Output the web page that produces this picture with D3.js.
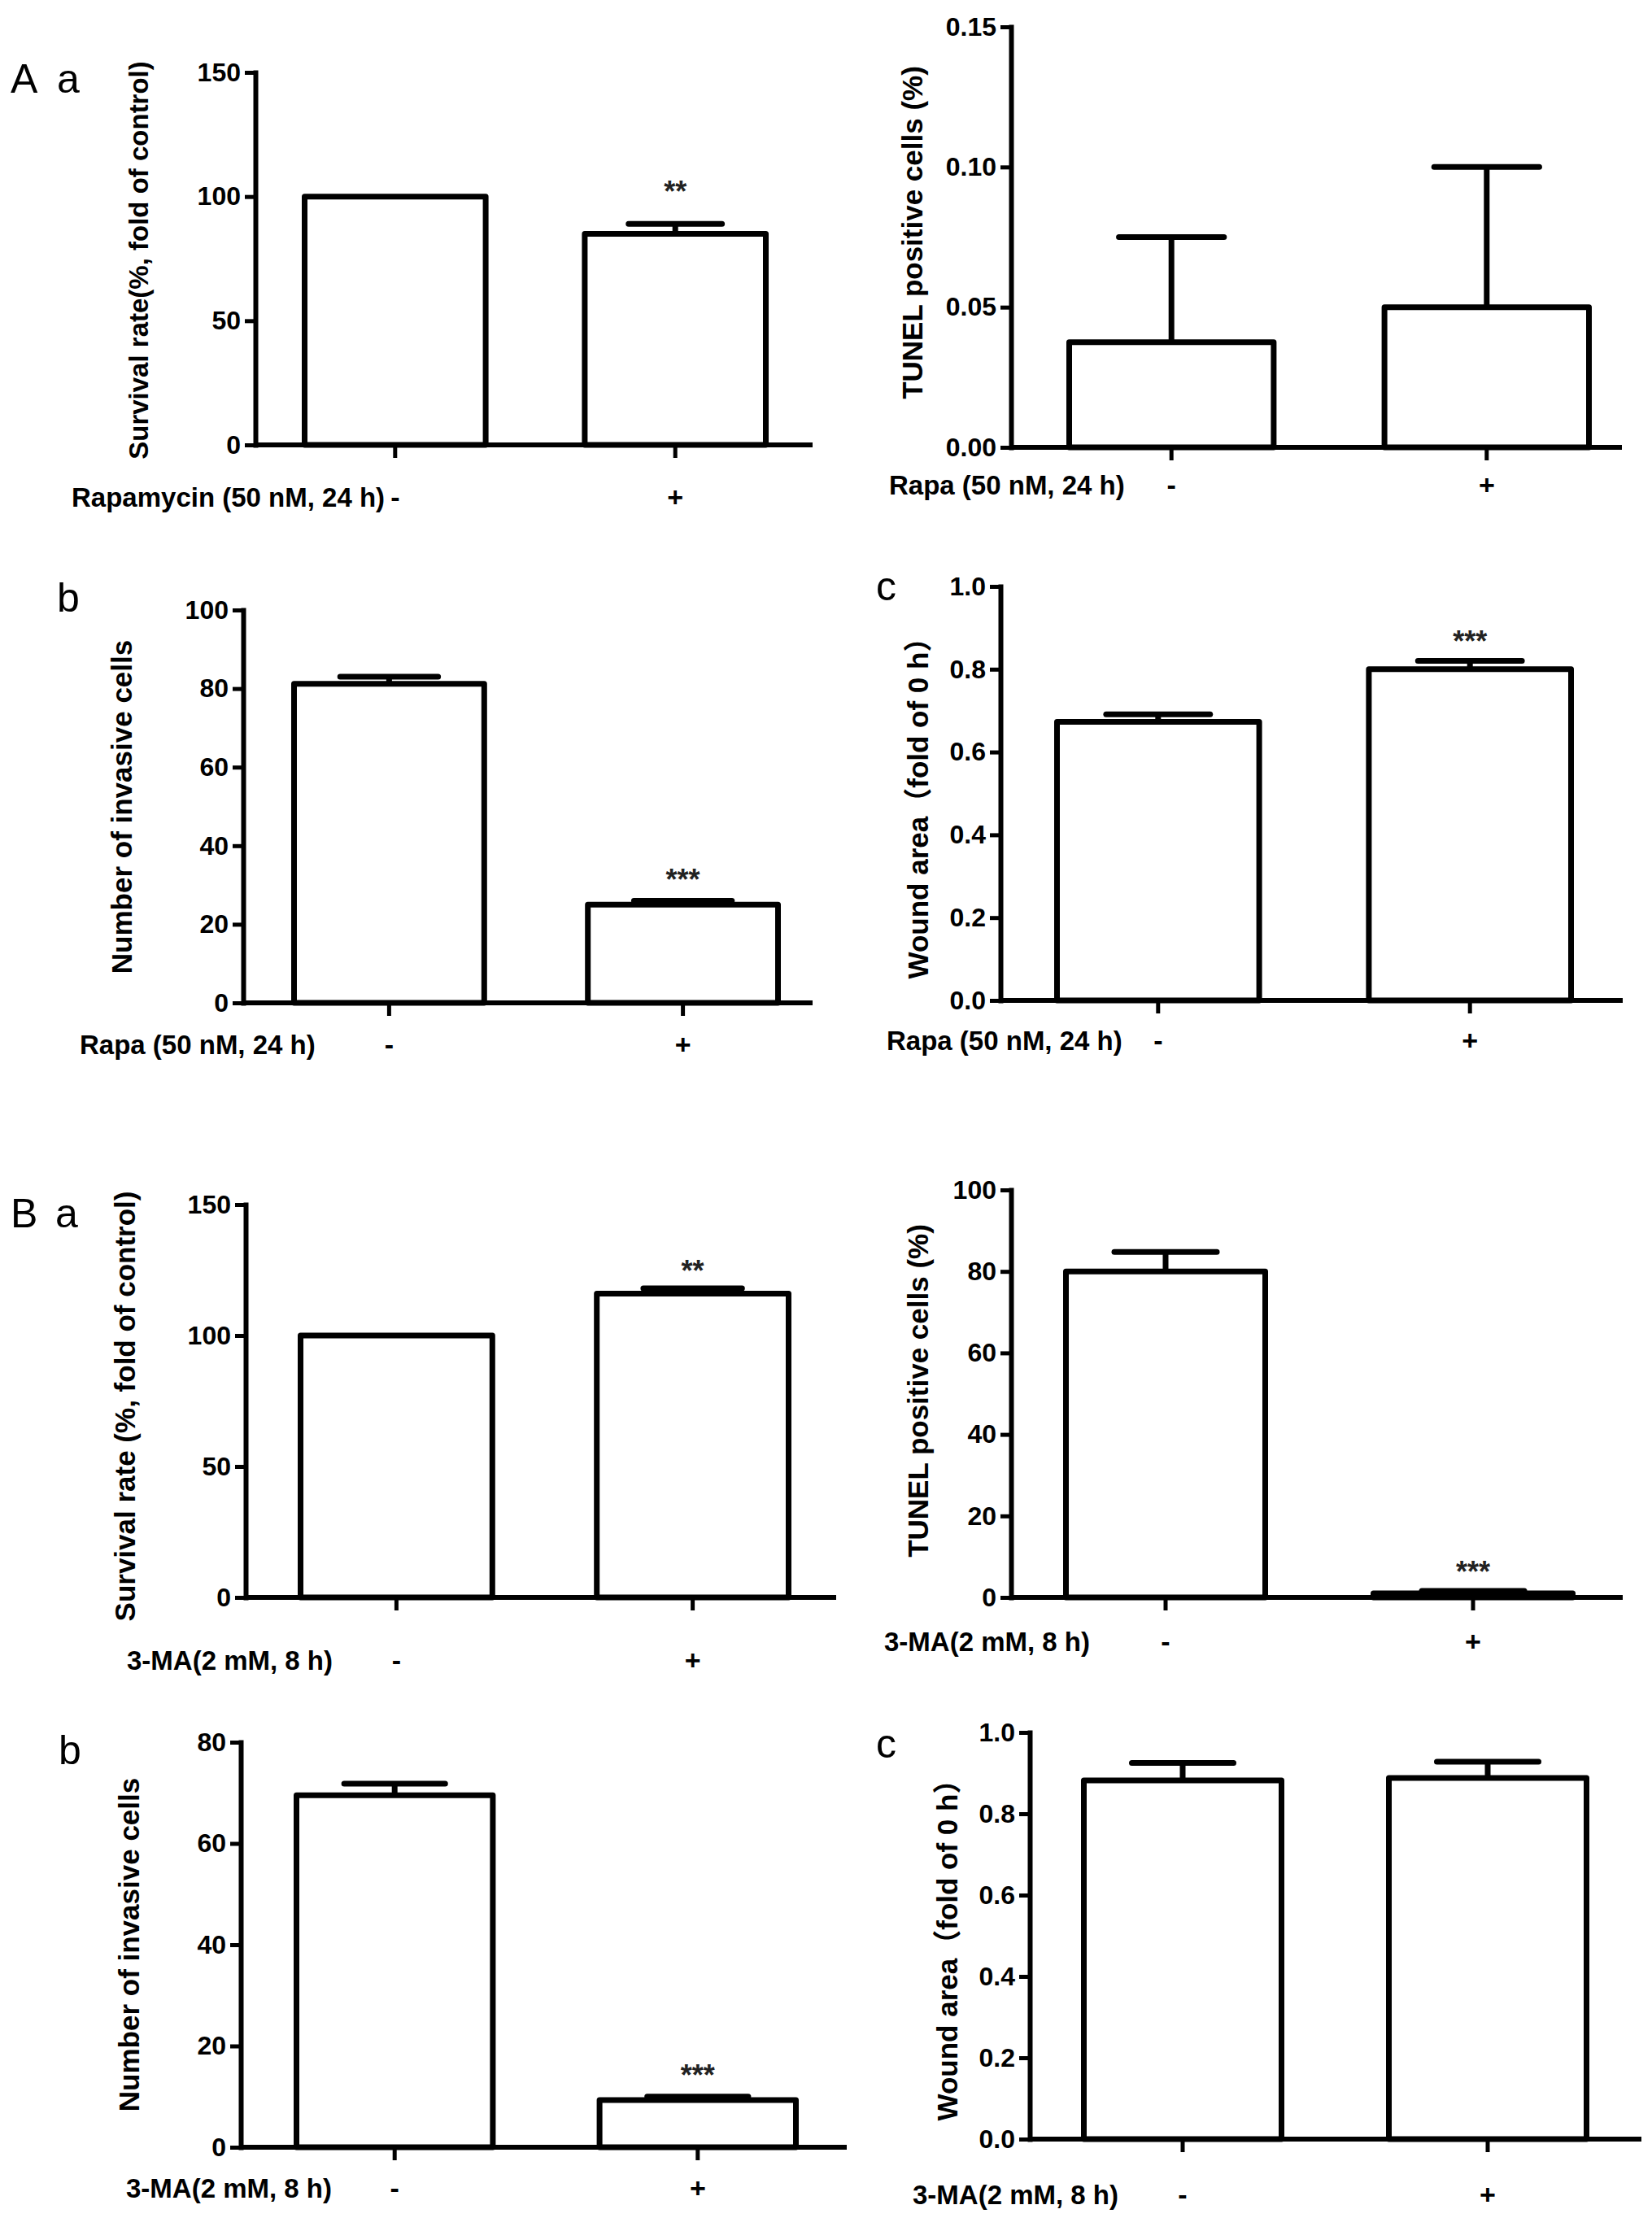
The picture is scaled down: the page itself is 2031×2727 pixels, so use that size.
<!DOCTYPE html>
<html><head><meta charset="utf-8">
<script src="https://cdn.jsdelivr.net/npm/d3@7"></script>
<style>body{margin:0;background:#fff}</style>
</head><body>
<svg id="c" width="2031" height="2727" xmlns="http://www.w3.org/2000/svg"></svg>
<script>
// ---------- data ----------
const groups = ["-", "+"];

const survivalRapa = [100, 85];
const survivalRapaErr = [0, 4];
const survivalRapaSig = ["", "**"];
const survivalRapaTicks = [0, 50, 100, 150];

const tunelRapa = [0.0375, 0.05];
const tunelRapaErr = [0.0375, 0.05];
const tunelRapaSig = ["", ""];
const tunelRapaTicks = [0, 0.05, 0.10, 0.15];

const invasionRapa = [81.2, 25];
const invasionRapaErr = [1.8, 1.0];
const invasionRapaSig = ["", "***"];
const invasionRapaTicks = [0, 20, 40, 60, 80, 100];

const woundRapa = [0.673, 0.80];
const woundRapaErr = [0.018, 0.02];
const woundRapaSig = ["", "***"];
const woundRapaTicks = [0, 0.2, 0.4, 0.6, 0.8, 1.0];

const survival3MA = [100, 116];
const survival3MAErr = [0, 2];
const survival3MASig = ["", "**"];
const survival3MATicks = [0, 50, 100, 150];

const tunel3MA = [80, 1.0];
const tunel3MAErr = [4.8, 0.6];
const tunel3MASig = ["", "***"];
const tunel3MATicks = [0, 20, 40, 60, 80, 100];

const invasion3MA = [69.5, 9.3];
const invasion3MAErr = [2.3, 0.7];
const invasion3MASig = ["", "***"];
const invasion3MATicks = [0, 20, 40, 60, 80];

const wound3MA = [0.882, 0.888];
const wound3MAErr = [0.043, 0.04];
const wound3MASig = ["", ""];
const wound3MATicks = [0, 0.2, 0.4, 0.6, 0.8, 1.0];

const yTitles = [
  "Survival rate(%, fold of control)",
  "TUNEL positive cells (%)",
  "Number of invasive cells",
  "Wound area（fold of 0 h）",
  "Survival rate (%, fold of control)",
  "TUNEL positive cells (%)",
  "Number of invasive cells",
  "Wound area（fold of 0 h）"
];
const xTitles = [
  "Rapamycin (50 nM, 24 h)",
  "Rapa (50 nM, 24 h)",
  "Rapa (50 nM, 24 h)",
  "Rapa (50 nM, 24 h)",
  "3-MA(2 mM, 8 h)",
  "3-MA(2 mM, 8 h)",
  "3-MA(2 mM, 8 h)",
  "3-MA(2 mM, 8 h)"
];

// ---------- layout (positions only) ----------
const layout = [
  {ax:314, ax1:999, b0:371, b1:945, top:89, y0:547, yl:[170,320], yfs:33, xl:[88,611], sigOff:47,
   letters:[["A",13,114],["a",70,114]], fmt:d3.format("d")},
  {ax:1243, ax1:1994, b0:1311, b1:1957, top:33, y0:550, yl:[1122,286], yfs:35, xl:[1093,596], sigOff:32,
   letters:[], fmt:d3.format(".2f")},
  {ax:299, ax1:999, b0:358, b1:960, top:750, y0:1233, yl:[150,992], yfs:35, xl:[98,1284], sigOff:33,
   letters:[["b",70,752]], fmt:d3.format("d")},
  {ax:1230, ax1:1995, b0:1296, b1:1935, top:721, y0:1230, yl:[1129,985], yfs:35, xl:[1090,1279], sigOff:32,
   letters:[["c",1077,738]], fmt:d3.format(".1f")},
  {ax:302, ax1:1028, b0:366, b1:973, top:1481, y0:1964, yl:[154,1729], yfs:35, xl:[156,2041], sigOff:29,
   letters:[["B",13,1509],["a",68,1509]], fmt:d3.format("d")},
  {ax:1243, ax1:1995, b0:1307, b1:1937, top:1463, y0:1964, yl:[1129,1710], yfs:35, xl:[1087,2018], sigOff:31,
   letters:[], fmt:d3.format("d")},
  {ax:296, ax1:1041, b0:361, b1:982, top:2142, y0:2640, yl:[159,2391], yfs:35, xl:[155,2690], sigOff:34,
   letters:[["b",72,2169]], fmt:d3.format("d")},
  {ax:1266, ax1:2018, b0:1329, b1:1954, top:2130, y0:2630, yl:[1165,2389], yfs:35, xl:[1122,2698], sigOff:32,
   letters:[["c",1077,2161]], fmt:d3.format(".1f")}
];

const series = [
  [survivalRapa, survivalRapaErr, survivalRapaSig, survivalRapaTicks],
  [tunelRapa, tunelRapaErr, tunelRapaSig, tunelRapaTicks],
  [invasionRapa, invasionRapaErr, invasionRapaSig, invasionRapaTicks],
  [woundRapa, woundRapaErr, woundRapaSig, woundRapaTicks],
  [survival3MA, survival3MAErr, survival3MASig, survival3MATicks],
  [tunel3MA, tunel3MAErr, tunel3MASig, tunel3MATicks],
  [invasion3MA, invasion3MAErr, invasion3MASig, invasion3MATicks],
  [wound3MA, wound3MAErr, wound3MASig, wound3MATicks]
];

const FONT = "'Liberation Sans', Arial, 'Noto Sans CJK SC', sans-serif";
const NARROW = "'Liberation Sans Narrow', 'Arial Narrow', 'Liberation Sans', Arial, sans-serif";
const svg = d3.select("#c");
svg.append("rect").attr("width",2031).attr("height",2727).attr("fill","#fff");

series.forEach(([vals, errs, sigs, ticks], i) => {
  const L = layout[i];
  const g = svg.append("g");
  const y = d3.scaleLinear().domain([0, d3.max(ticks)]).range([L.y0, L.top]);
  const x = d3.scaleBand().domain(groups).range([L.b0, L.b1]).paddingInner(1/3).paddingOuter(0);
  const bw = x.bandwidth();
  const data = groups.map((k, j) => ({k, v: vals[j], e: errs[j], s: sigs[j]}));
  const SW = 7;

  // error bars
  data.filter(d => d.e > 0).forEach(d => {
    const cx = x(d.k) + bw / 2;
    g.append("line").attr("x1", cx).attr("x2", cx)
      .attr("y1", y(d.v)).attr("y2", y(d.v + d.e))
      .attr("stroke", "#000").attr("stroke-width", SW);
    g.append("line").attr("x1", cx - bw / 4).attr("x2", cx + bw / 4)
      .attr("y1", y(d.v + d.e)).attr("y2", y(d.v + d.e))
      .attr("stroke", "#000").attr("stroke-width", SW).attr("stroke-linecap", "round");
  });

  // bars
  g.selectAll("rect.bar").data(data).join("rect").attr("class", "bar")
    .attr("x", d => x(d.k) + SW / 2)
    .attr("width", bw - SW)
    .attr("y", d => y(d.v))
    .attr("height", d => L.y0 - y(d.v))
    .attr("fill", "#fff").attr("stroke", "#000").attr("stroke-width", SW)
    .attr("stroke-linejoin", "round");

  // significance
  data.filter(d => d.s).forEach(d => {
    g.append("text").attr("x", x(d.k) + bw / 2)
      .attr("y", y(d.v + d.e) - L.sigOff + 20)
      .attr("text-anchor", "middle")
      .attr("font-family", FONT).attr("font-weight", "bold").attr("font-size", 36)
      .attr("fill", "#222").text(d.s);
  });

  // y axis
  const ya = g.append("g").attr("transform", `translate(${L.ax},0)`)
    .call(d3.axisLeft(y).tickValues(ticks).tickFormat(L.fmt).tickSize(13).tickSizeOuter(0).tickPadding(5));
  ya.select(".domain").attr("stroke-width", 6).attr("stroke-linecap", "square");
  ya.selectAll(".tick line").attr("stroke-width", 5);
  ya.selectAll(".tick text").attr("font-family", FONT).attr("font-weight", "bold")
    .attr("font-size", 32).attr("fill", "#000");

  // x axis line
  g.append("line").attr("x1", L.ax).attr("x2", L.ax1).attr("y1", L.y0).attr("y2", L.y0)
    .attr("stroke", "#000").attr("stroke-width", 6);
  const xa = g.append("g").attr("transform", `translate(0,${L.y0})`)
    .call(d3.axisBottom(x).tickSize(16).tickSizeOuter(0));
  xa.select(".domain").remove();
  xa.selectAll(".tick line").attr("stroke-width", 5);
  xa.selectAll(".tick text").attr("y", L.xl[1] - L.y0).attr("dy", "0.35em")
    .attr("font-family", FONT).attr("font-weight", "bold").attr("font-size", 34).attr("fill", "#000");

  // x title
  g.append("text").attr("x", L.xl[0]).attr("y", L.xl[1]).attr("dy", "0.35em")
    .attr("font-family", FONT).attr("font-weight", "bold").attr("font-size", 33)
    .text(xTitles[i]);

  // y title
  g.append("text").attr("transform", `translate(${L.yl[0]},${L.yl[1]}) rotate(-90)`)
    .attr("text-anchor", "middle").attr("dy", "0.35em")
    .attr("font-family", FONT).attr("font-weight", "bold").attr("font-size", L.yfs)
    .text(yTitles[i]);

  // panel letters
  L.letters.forEach(([t, lx, ly]) => {
    g.append("text").attr("x", lx).attr("y", ly)
      .attr("font-family", NARROW).attr("font-size", 50).text(t);
  });
});
</script>
</body></html>
